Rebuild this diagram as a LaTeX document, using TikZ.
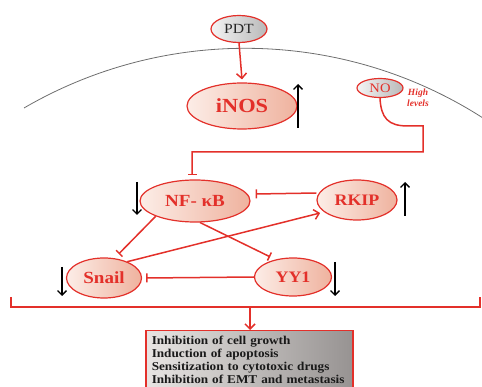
\documentclass[tikz,border=0pt]{standalone}
\usepackage{fontspec}
\setmainfont{Liberation Serif}
\newfontfamily\labfont{Liberation Serif}[FakeStretch=1.12]
\newfontfamily\boxfont{Liberation Serif}[FakeStretch=1.1]
\usetikzlibrary{arrows.meta,shapes.geometric}
\definecolor{rd}{HTML}{E3302A}
\definecolor{pinkL}{HTML}{FCEDE7}
\definecolor{pinkR}{HTML}{EFB29E}
\definecolor{grayL}{HTML}{F4F4F4}
\definecolor{grayR}{HTML}{B9B9B9}
\definecolor{boxL}{HTML}{E8E5E3}
\definecolor{boxR}{HTML}{979392}
\definecolor{memb}{HTML}{6E6E6E}
\begin{document}
\begin{tikzpicture}[x=1pt,y=-1pt,
  ell/.style={ellipse, draw=rd, line width=1.2pt, left color=pinkL, right color=pinkR,
    inner sep=0pt, text=rd},
  gell/.style={ellipse, draw=rd, line width=1.2pt, left color=grayL, right color=grayR,
    inner sep=0pt},
  inh/.style={draw=rd, line width=1.5pt, -{Bar[width=9pt,line width=1.5pt]}},
  act/.style={draw=rd, line width=1.5pt, -{Straight Barb[length=5pt,width=10pt,line width=1.5pt]}},
  updown/.style={draw=black, line width=1.4pt, -{Straight Barb[length=4.5pt,width=9pt,line width=1.4pt]}},
  lab/.style={font={\labfont\fontsize{#1}{#1}\selectfont\bfseries}}
]
\useasboundingbox (0,0) rectangle (482,387);

% membrane
\draw[memb, line width=0.8pt] (24,108) arc[start angle=-120.2, end angle=-57.4, radius=440];

% nodes
\node[gell, minimum width=56pt, minimum height=27pt, font={\labfont\fontsize{14}{14}\selectfont}, text=black!85] (PDT) at (239,29) {PDT};
\node[ell, lab=20, minimum width=110pt, minimum height=46pt] (iNOS) at (242,106) {iNOS};
\node[gell, minimum width=46pt, minimum height=19pt, text=rd, font={\labfont\fontsize{13}{13}\selectfont}] (NO) at (380,88) {NO};
\node[text=rd, font={\fontsize{9.5}{10.5}\selectfont\bfseries\itshape}, align=center, inner sep=0pt] (hl) at (418,98) {High\\levels};
\node[ell, lab=17, minimum width=110pt, minimum height=42pt] (NF) at (195,201) {NF- κB};
\node[ell, lab=16, minimum width=80pt, minimum height=40pt] (RKIP) at (357,200) {RKIP};
\node[ell, lab=17, minimum width=75pt, minimum height=40pt] (Snail) at (104,278) {Snail};
\node[ell, lab=16, minimum width=77pt, minimum height=38pt] (YY1) at (293,277) {YY1};

% connectors
\draw[act] (PDT.south) -- ([yshift=3pt]iNOS.north);
\draw[inh, shorten >=4pt] (NO.south) .. controls (381,118) and (388,126) .. (408,126)
   -- (423,126) -- (423,152) -- (192,152) -- (NF.north -| 192,0);
\draw[inh] ([yshift=7pt]RKIP.west) -- ([xshift=5pt,yshift=7pt]NF.east);
\draw[inh, shorten >=6pt] (NF.south west) -- (Snail.62);
\draw[inh, shorten >=6pt] (NF.-77) -- (YY1.135);
\draw[act, shorten >=4pt] (Snail.35) -- (RKIP.200);
\draw[inh] (YY1.west) -- ([xshift=4pt]Snail.east);

% up/down indicators
\draw[updown] (298,128) -- (298,84);
\draw[updown] (137,182) -- (137,215);
\draw[updown] (405,216) -- (405,182);
\draw[updown] (62,267) -- (62,296);
\draw[updown] (335,262) -- (335,296);

% bracket
\coordinate (brL) at (11,297);
\coordinate (brR) at (480,297);
\coordinate (brC) at (250,307);
\draw[rd, line width=1.5pt] (brL) -- (11,307) -- (480,307) -- (brR);

% outcome box
\node[draw=rd, line width=1.5pt, anchor=north west, left color=boxL, right color=boxR,
  minimum width=207pt, minimum height=64pt, text width=195pt, inner xsep=6pt, inner ysep=3pt,
  align=left, font={\boxfont\fontsize{12}{13.2}\selectfont\bfseries}, text=black!90] (box) at (145,330)
  {Inhibition of cell growth\\Induction of apoptosis\\Sensitization to cytotoxic drugs\\Inhibition of EMT and metastasis\par\vspace{6pt}};
\draw[act] (brC) -- (box.north -| brC);
\end{tikzpicture}
\end{document}
